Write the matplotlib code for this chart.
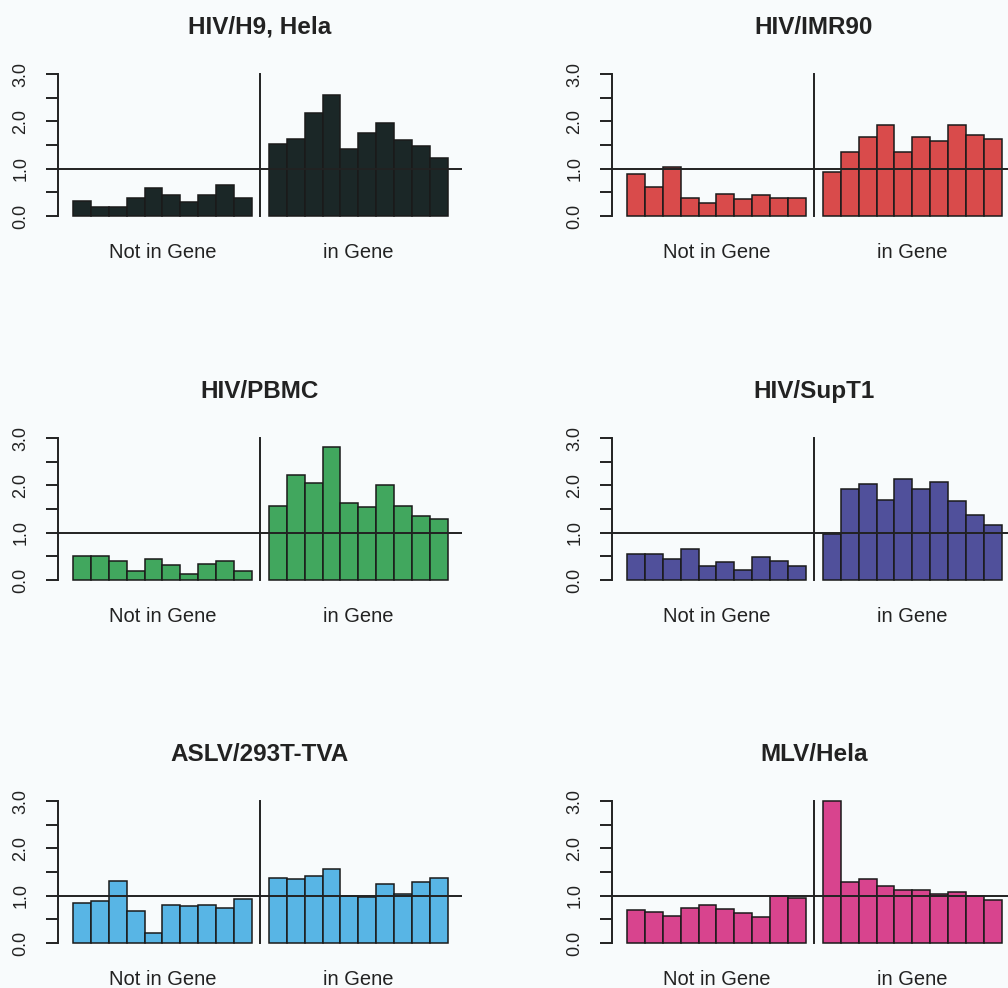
import numpy as np
import matplotlib
matplotlib.use("Agg")
import matplotlib.pyplot as plt

# font close to the Helvetica used by R
plt.rcParams['font.family'] = ['Liberation Sans', 'DejaVu Sans']

# panel titles and colours
titles = ["HIV/H9, Hela", "HIV/IMR90", "HIV/PBMC", "HIV/SupT1", "ASLV/293T-TVA", "MLV/Hela"]
colors = ["#1b2727", "#d94b4b", "#41a75e", "#50509b", "#58b5e5", "#d8448e"]
group_labels = ["Not in Gene", "in Gene"]

# ratio of observed to random integration, ten bins per group
not_in_gene = [
    [0.31, 0.20, 0.18, 0.37, 0.59, 0.45, 0.30, 0.44, 0.65, 0.37],
    [0.88, 0.62, 1.04, 0.39, 0.27, 0.46, 0.35, 0.45, 0.39, 0.39],
    [0.50, 0.50, 0.41, 0.18, 0.45, 0.32, 0.13, 0.34, 0.40, 0.20],
    [0.55, 0.54, 0.45, 0.66, 0.29, 0.38, 0.21, 0.48, 0.41, 0.30],
    [0.84, 0.89, 1.32, 0.68, 0.22, 0.81, 0.79, 0.81, 0.75, 0.93],
    [0.69, 0.65, 0.58, 0.73, 0.81, 0.72, 0.63, 0.55, 1.00, 0.96],
]
in_gene = [
    [1.53, 1.63, 2.17, 2.55, 1.41, 1.76, 1.97, 1.60, 1.48, 1.23],
    [0.92, 1.35, 1.68, 1.93, 1.36, 1.66, 1.59, 1.93, 1.71, 1.63],
    [1.57, 2.21, 2.05, 2.82, 1.63, 1.54, 2.00, 1.57, 1.36, 1.30],
    [0.98, 1.92, 2.02, 1.70, 2.14, 1.93, 2.07, 1.67, 1.38, 1.17],
    [1.37, 1.35, 1.41, 1.56, 0.99, 0.97, 1.25, 1.04, 1.28, 1.37],
    [3.00, 1.30, 1.35, 1.21, 1.11, 1.12, 1.03, 1.07, 0.99, 0.90],
]
y_ticks = [0, 0.5, 1, 1.5, 2, 2.5, 3]
y_tick_labels = ["0.0", "", "1.0", "", "2.0", "", "3.0"]

# figure geometry in pixels
W, H = 1008, 988
bg = "#f8fbfc"
fig = plt.figure(figsize=(W / 100, H / 100), dpi=100, facecolor=bg)

col_left = [58, 612]
row_zero = [216, 580, 943]
ax_w = 404
unit = 47.3
ylo, yhi = -0.12, 3.12
gap = 0.95
xlo, xhi = -0.84, 10 + gap + 10 + 0.8

for k in range(6):
    r, c = k // 2, k % 2
    top = row_zero[r] - yhi * unit
    bottom = row_zero[r] - ylo * unit
    ax = fig.add_axes([col_left[c] / W, 1 - bottom / H, ax_w / W, (bottom - top) / H])
    ax.set_facecolor(bg)

    x1 = np.arange(10)
    x2 = np.arange(10) + 10 + gap
    ax.bar(x1, not_in_gene[k], width=1, align='edge', color=colors[k],
           edgecolor="#1a1a1a", linewidth=1.1)
    ax.bar(x2, in_gene[k], width=1, align='edge', color=colors[k],
           edgecolor="#1a1a1a", linewidth=1.1)

    # reference line at 1 and divider between the groups
    ax.axhline(1, color="#222222", linewidth=1.4)
    ax.plot([10 + gap / 2, 10 + gap / 2], [0, 3], color="#222222", linewidth=1.4)

    ax.set_xlim(xlo, xhi)
    ax.set_ylim(ylo, yhi)

    for s in ["top", "right", "bottom"]:
        ax.spines[s].set_visible(False)
    ax.spines["left"].set_bounds(0, 3)
    ax.spines["left"].set_linewidth(1.4)
    ax.spines["left"].set_color("#222222")

    ax.set_yticks(y_ticks)
    ax.set_yticklabels(y_tick_labels, rotation=90, va='center', fontsize=13, color="#222222")
    ax.tick_params(axis='y', length=8.5, width=1.4, color="#222222", pad=12)

    ax.set_xticks([5, 10 + gap + 5])
    ax.set_xticklabels(group_labels, fontsize=14.5, color="#222222")
    ax.tick_params(axis='x', length=0, pad=15)

    ax.set_title(titles[k], fontsize=17.5, fontweight='bold', color="#222222", pad=25)

fig.savefig("out.png", dpi=100, facecolor=bg)
